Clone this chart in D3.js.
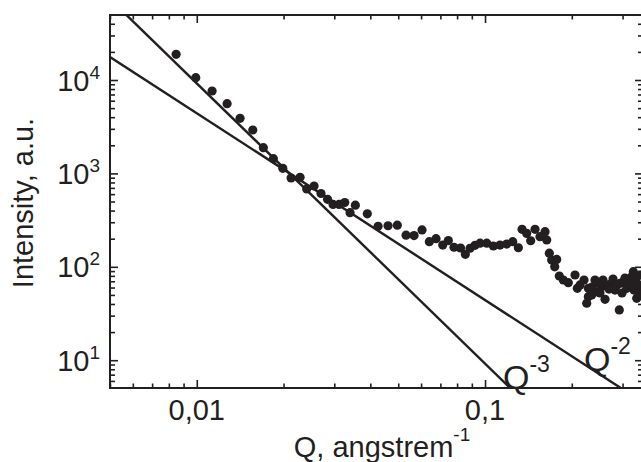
<!DOCTYPE html>
<html>
<head>
<meta charset="utf-8">
<script src="https://cdn.jsdelivr.net/npm/d3@7"></script>
<style>
	body { margin: 0; background: #fff; }
	svg { display: block; font-family: "Liberation Sans", Arial, sans-serif; }
</style>
</head>
<body>
<svg id="chart" width="641" height="462"></svg>
<script>
// scattering data
let qValues = [0.00848, 0.00992, 0.01130, 0.01274, 0.01413, 0.01564, 0.01702, 0.01844, 0.01988, 0.02124,
	0.02282, 0.02407, 0.02552, 0.02698, 0.02842, 0.02970, 0.03116, 0.03261, 0.03402, 0.03549,
	0.03905, 0.04255, 0.04608, 0.04963, 0.05321, 0.05672, 0.06045, 0.06408, 0.06761, 0.07133,
	0.07459, 0.07806, 0.08222, 0.08545, 0.08872, 0.09233, 0.09610, 0.1014, 0.1069, 0.1127,
	0.1189, 0.1248, 0.1305, 0.1344, 0.1395, 0.1440, 0.1491, 0.1551, 0.1615, 0.1637,
	0.1671, 0.1703, 0.1773, 0.1745, 0.1810, 0.1869, 0.1945, 0.2052, 0.2090, 0.2136,
	0.2205, 0.2282, 0.2282, 0.2253, 0.2407, 0.2440, 0.2540, 0.2608, 0.2643, 0.2751,
	0.2824, 0.2923, 0.2940, 0.3018, 0.3101, 0.3141, 0.3227, 0.3269, 0.3340, 0.3359,
	0.3402, 0.3449, 0.2466, 0.2566, 0.2692, 0.2780, 0.2870, 0.3059, 0.3184, 0.3286,
	0.3420, 0.2505, 0.2987, 0.2350, 0.2345];
let intensityValues = [18840, 10580, 7625, 5576, 3890, 2915, 1884, 1437, 1134, 893,
	908, 681, 733, 609, 528, 465, 465, 488, 380, 457,
	369, 271, 275, 279, 218, 216, 248, 186, 200, 171,
	191, 162, 159, 136, 158, 170, 179, 179, 167, 171,
	175, 186, 160, 252, 228, 190, 252, 210, 238, 194,
	140, 118, 120, 100, 79.7, 72.2, 67.6, 81.7, 58.9, 63.9,
	72.2, 58.9, 47.9, 40.7, 72.2, 54.1, 61.2, 44.9, 63.9, 66.6,
	56.4, 34.5, 66.6, 69.3, 58.9, 72.2, 78.3, 88.6, 72.2, 46.0,
	63.9, 81.7, 67.1, 72.2, 57.8, 74.0, 63.9, 75.9, 65.4, 56.4,
	52.4, 52.4, 52.4, 60.8, 49.9];

// power-law guide lines I = A * Q^n
let fitNames = ['Q', 'Q'];
let fitExponents = [-3, -2];
let fitAmplitudes = [0.0092, 0.441];

// axes
let qDomain = [0.005, 0.3532];
let intensityDomain = [5.04, 49660];
let qMajorTicks = [0.01, 0.1];
let qTickLabels = ['0,01', '0,1'];
let intensityMajorTicks = [10, 100, 1000, 10000];
let intensityTickExponents = ['1', '2', '3', '4'];

let ink = '#231f20';
let margin = {left: 110, right: 643, top: 15, bottom: 388};

let svg = d3.select('#chart');

let x = d3.scaleLog().domain(qDomain).range([margin.left, margin.right]);
let y = d3.scaleLog().domain(intensityDomain).range([margin.bottom, margin.top]);

svg.append('defs').append('clipPath').attr('id', 'plotClip')
	.append('rect')
	.attr('x', margin.left).attr('y', margin.top)
	.attr('width', margin.right - margin.left).attr('height', margin.bottom - margin.top);

// minor ticks are everything d3 gives that is not a decade
let qMinor = x.ticks().filter(d => !qMajorTicks.some(m => Math.abs(m - d) / m < 1e-6));
let iMinor = y.ticks().filter(d => !intensityMajorTicks.some(m => Math.abs(m - d) / m < 1e-6));

function drawAxis(axisFn, scale, values, size, translate) {
	let g = svg.append('g').attr('transform', translate)
		.call(axisFn(scale).tickValues(values).tickSize(size).tickFormat(''));
	g.select('.domain').remove();
	g.selectAll('line').attr('stroke', ink).attr('stroke-width', 1.6);
}

// ticks point inward on all four sides
drawAxis(d3.axisBottom, x, qMinor, -4.5, 'translate(0,' + margin.bottom + ')');
drawAxis(d3.axisBottom, x, qMajorTicks, -8, 'translate(0,' + margin.bottom + ')');
drawAxis(d3.axisTop, x, qMinor, -4.5, 'translate(0,' + margin.top + ')');
drawAxis(d3.axisTop, x, qMajorTicks, -8, 'translate(0,' + margin.top + ')');
drawAxis(d3.axisLeft, y, iMinor, -5, 'translate(' + margin.left + ',0)');
drawAxis(d3.axisLeft, y, intensityMajorTicks, -8, 'translate(' + margin.left + ',0)');
drawAxis(d3.axisRight, y, iMinor, -5, 'translate(' + margin.right + ',0)');
drawAxis(d3.axisRight, y, intensityMajorTicks, -8, 'translate(' + margin.right + ',0)');

// frame
svg.append('rect')
	.attr('x', margin.left).attr('y', margin.top)
	.attr('width', margin.right - margin.left).attr('height', margin.bottom - margin.top)
	.attr('fill', 'none').attr('stroke', ink).attr('stroke-width', 2);

// guide lines
let line = d3.line().x(d => x(d[0])).y(d => y(d[1]));
svg.append('g').attr('clip-path', 'url(#plotClip)')
	.selectAll('path').data(fitExponents).join('path')
	.attr('d', (n, i) => line(qDomain.map(q => [q, fitAmplitudes[i] * Math.pow(q, n)])))
	.attr('fill', 'none').attr('stroke', ink).attr('stroke-width', 2.4);

// data points
svg.append('g').attr('clip-path', 'url(#plotClip)')
	.selectAll('circle').data(qValues).join('circle')
	.attr('cx', d => x(d))
	.attr('cy', (d, i) => y(intensityValues[i]))
	.attr('r', 4.6)
	.attr('fill', ink);

// tick labels
svg.append('g').selectAll('text').data(qMajorTicks).join('text')
	.attr('x', d => x(d)).attr('y', 420)
	.attr('text-anchor', 'middle')
	.attr('font-size', 29).attr('fill', ink)
	.text((d, i) => qTickLabels[i]);

let yLabels = svg.append('g').selectAll('text').data(intensityMajorTicks).join('text')
	.attr('x', 100).attr('y', d => y(d) + 10.5)
	.attr('text-anchor', 'end')
	.attr('font-size', 29).attr('fill', ink);
yLabels.append('tspan').text('10');
yLabels.append('tspan').attr('dy', -12).attr('font-size', 19)
	.text((d, i) => intensityTickExponents[i]);

// axis titles
let xTitle = svg.append('text')
	.attr('x', 382).attr('y', 457)
	.attr('text-anchor', 'middle')
	.attr('font-size', 29).attr('fill', ink);
xTitle.append('tspan').text('Q, angstrem');
xTitle.append('tspan').attr('dy', -16).attr('font-size', 19).text('-1');

svg.append('text')
	.attr('transform', 'translate(33,203) rotate(-90)')
	.attr('text-anchor', 'middle')
	.attr('font-size', 29).attr('fill', ink)
	.text('Intensity, a.u.');

// power-law annotations
let annPos = [[503, 389], [584, 371]];
let ann = svg.append('g').selectAll('text').data(fitExponents).join('text')
	.attr('x', (d, i) => annPos[i][0]).attr('y', (d, i) => annPos[i][1])
	.attr('font-size', 34).attr('fill', ink);
ann.append('tspan').text((d, i) => fitNames[i]);
ann.append('tspan').attr('dy', -17).attr('font-size', 23).text(d => d);
</script>
</body>
</html>
